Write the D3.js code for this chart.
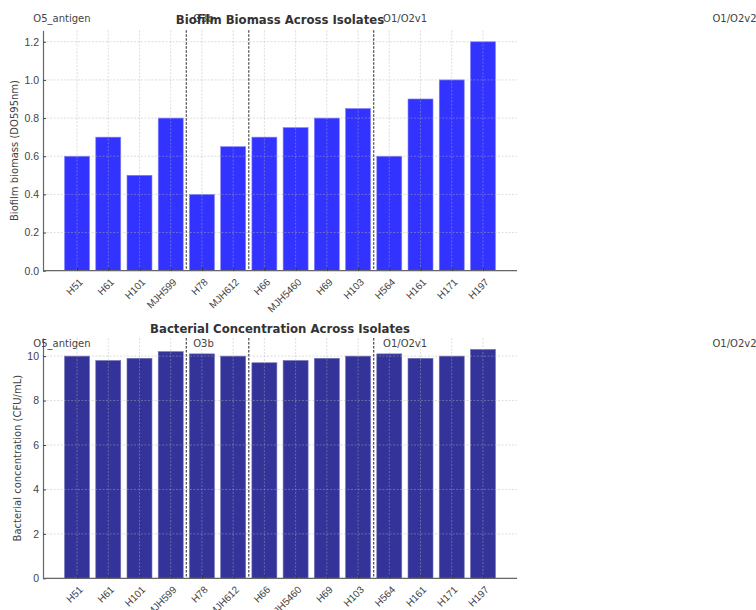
<!DOCTYPE html>
<html>
<head>
<meta charset="utf-8">
<script src="https://cdn.jsdelivr.net/npm/d3@7"></script>
<style>
  body { margin: 0; background: #fff; }
  svg { font-family: "DejaVu Sans", sans-serif; }
</style>
</head>
<body>
<div id="chart"></div>
<script>
// Isolates and measured values
const isolates = ["H51", "H61", "H101", "MJH599", "H78", "MJH612", "H66", "MJH5460", "H69", "H103", "H564", "H161", "H171", "H197"];
const biofilm = [0.6, 0.7, 0.5, 0.8, 0.4, 0.65, 0.7, 0.75, 0.8, 0.85, 0.6, 0.9, 1.0, 1.2];
const concentration = [10.0, 9.8, 9.9, 10.2, 10.1, 10.0, 9.7, 9.8, 9.9, 10.0, 10.1, 9.9, 10.0, 10.3];

// serotype groups (sizes along the x axis) and their labels
const groupSizes = [4, 2, 4, 4];
const groupLabels = ["O5_antigen", "O3b", "O1/O2v1", "O1/O2v2"];

const yTicksBiofilm = [0, 0.2, 0.4, 0.6, 0.8, 1.0, 1.2];
const yTicksConc = [0, 2, 4, 6, 8, 10];

const W = 756, H = 610;
const svg = d3.select("#chart").append("svg")
	.attr("width", W)
	.attr("height", H);

// where the group labels sit, in x-data units
const labelX = [-1.4, 3.72, 9.8, 20.35];

// break positions between groups
let breaks = [];
let acc = 0;
groupSizes.slice(0, -1).forEach(s => { acc += s; breaks.push(acc - 0.5); });

function drawPanel(opts) {
	let left = 43, right = 517;
	let top = opts.top, bottom = opts.bottom;

	let n = isolates.length;
	let pad = 0.4 + (n - 1 + 0.8) * 0.05;
	let x = d3.scaleLinear()
		.domain([-pad, n - 1 + pad])
		.range([left, right]);

	let ymax = d3.max(opts.values) * 1.05;
	let y = d3.scaleLinear()
		.domain([0, ymax])
		.range([bottom, top]);

	let g = svg.append("g");
	let bw = (x(0.8) - x(0));

	// bars
	g.selectAll("rect.bar")
		.data(opts.values)
		.enter().append("rect")
		.attr("class", "bar")
		.attr("x", (d, i) => x(i) - bw / 2)
		.attr("width", bw)
		.attr("y", d => y(d))
		.attr("height", d => y(0) - y(d))
		.attr("fill", opts.color)
		.attr("stroke", opts.edge)
		.attr("stroke-width", 0.6);

	// grid on top of bars
	g.selectAll("line.hgrid")
		.data(opts.yticks)
		.enter().append("line")
		.attr("x1", left).attr("x2", right)
		.attr("y1", d => y(d)).attr("y2", d => y(d))
		.attr("stroke", "#b0b0b0")
		.attr("stroke-opacity", 0.55)
		.attr("stroke-width", 0.8)
		.attr("stroke-dasharray", "2,1.5");

	g.selectAll("line.vgrid")
		.data(isolates)
		.enter().append("line")
		.attr("x1", (d, i) => x(i)).attr("x2", (d, i) => x(i))
		.attr("y1", top).attr("y2", bottom)
		.attr("stroke", "#b0b0b0")
		.attr("stroke-opacity", 0.55)
		.attr("stroke-width", 0.8)
		.attr("stroke-dasharray", "2,1.5");

	// group separators
	g.selectAll("line.sep")
		.data(breaks)
		.enter().append("line")
		.attr("x1", d => x(d)).attr("x2", d => x(d))
		.attr("y1", top).attr("y2", bottom)
		.attr("stroke", "#555")
		.attr("stroke-width", 1.3)
		.attr("stroke-dasharray", "2.5,1.5");

	// axes
	let yAxis = d3.axisLeft(y)
		.tickValues(opts.yticks)
		.tickFormat(opts.fmt)
		.tickSizeInner(-3)
		.tickSizeOuter(0)
		.tickPadding(4);
	let ya = g.append("g")
		.attr("transform", "translate(" + left + ",0)")
		.call(yAxis);
	ya.select(".domain").attr("stroke", "#666").attr("stroke-width", 1.2);
	ya.selectAll(".tick line").attr("stroke", "#444");
	ya.selectAll(".tick text").attr("font-size", 10.5).attr("fill", "#444");

	let xAxis = d3.axisBottom(x)
		.tickValues(d3.range(n))
		.tickFormat(i => isolates[i])
		.tickSizeInner(-3)
		.tickSizeOuter(0);
	let xa = g.append("g")
		.attr("transform", "translate(0," + bottom + ")")
		.call(xAxis);
	xa.select(".domain").attr("stroke", "#666").attr("stroke-width", 1.2)
		.attr("d", "M" + left + ",0H" + right);
	xa.selectAll(".tick line").attr("stroke", "#333");
	xa.selectAll(".tick text")
		.attr("font-size", 10)
		.attr("fill", "#444")
		.attr("text-anchor", "end")
		.attr("dy", "0.71em")
		.attr("transform", "translate(1,7) rotate(-45)")
		.attr("y", 0)
		.attr("x", 0);

	// axis label
	g.append("text")
		.attr("transform", "translate(" + opts.ylabelX + "," + ((top + bottom) / 2) + ") rotate(-90)")
		.attr("text-anchor", "middle")
		.attr("font-size", 10)
		.attr("fill", "#444")
		.text(opts.ylabel);

	// group labels
	g.selectAll("text.grp")
		.data(groupLabels)
		.enter().append("text")
		.attr("x", (d, i) => x(labelX[i]))
		.attr("y", opts.groupY)
		.attr("font-size", 10)
		.attr("fill", "#444")
		.text(d => d);

	// title
	g.append("text")
		.attr("x", (left + right) / 2)
		.attr("y", opts.titleY)
		.attr("text-anchor", "middle")
		.attr("font-size", 11.7)
		.attr("font-weight", "bold")
		.attr("fill", "#333")
		.text(opts.title);
}

drawPanel({
	values: biofilm,
	top: 30.3, bottom: 270.7,
	yticks: yTicksBiofilm,
	fmt: d3.format(".1f"),
	color: "#3333ff",
	edge: "#8080ff",
	ylabel: "Biofilm biomass (DO595nm)",
	ylabelX: 18,
	groupY: 22,
	titleY: 24,
	title: "Biofilm Biomass Across Isolates"
});

drawPanel({
	values: concentration,
	top: 338, bottom: 578.3,
	yticks: yTicksConc,
	fmt: d3.format("d"),
	color: "#333399",
	edge: "#7070b8",
	ylabel: "Bacterial concentration (CFU/mL)",
	ylabelX: 21,
	groupY: 347,
	titleY: 333,
	title: "Bacterial Concentration Across Isolates"
});
</script>
</body>
</html>
